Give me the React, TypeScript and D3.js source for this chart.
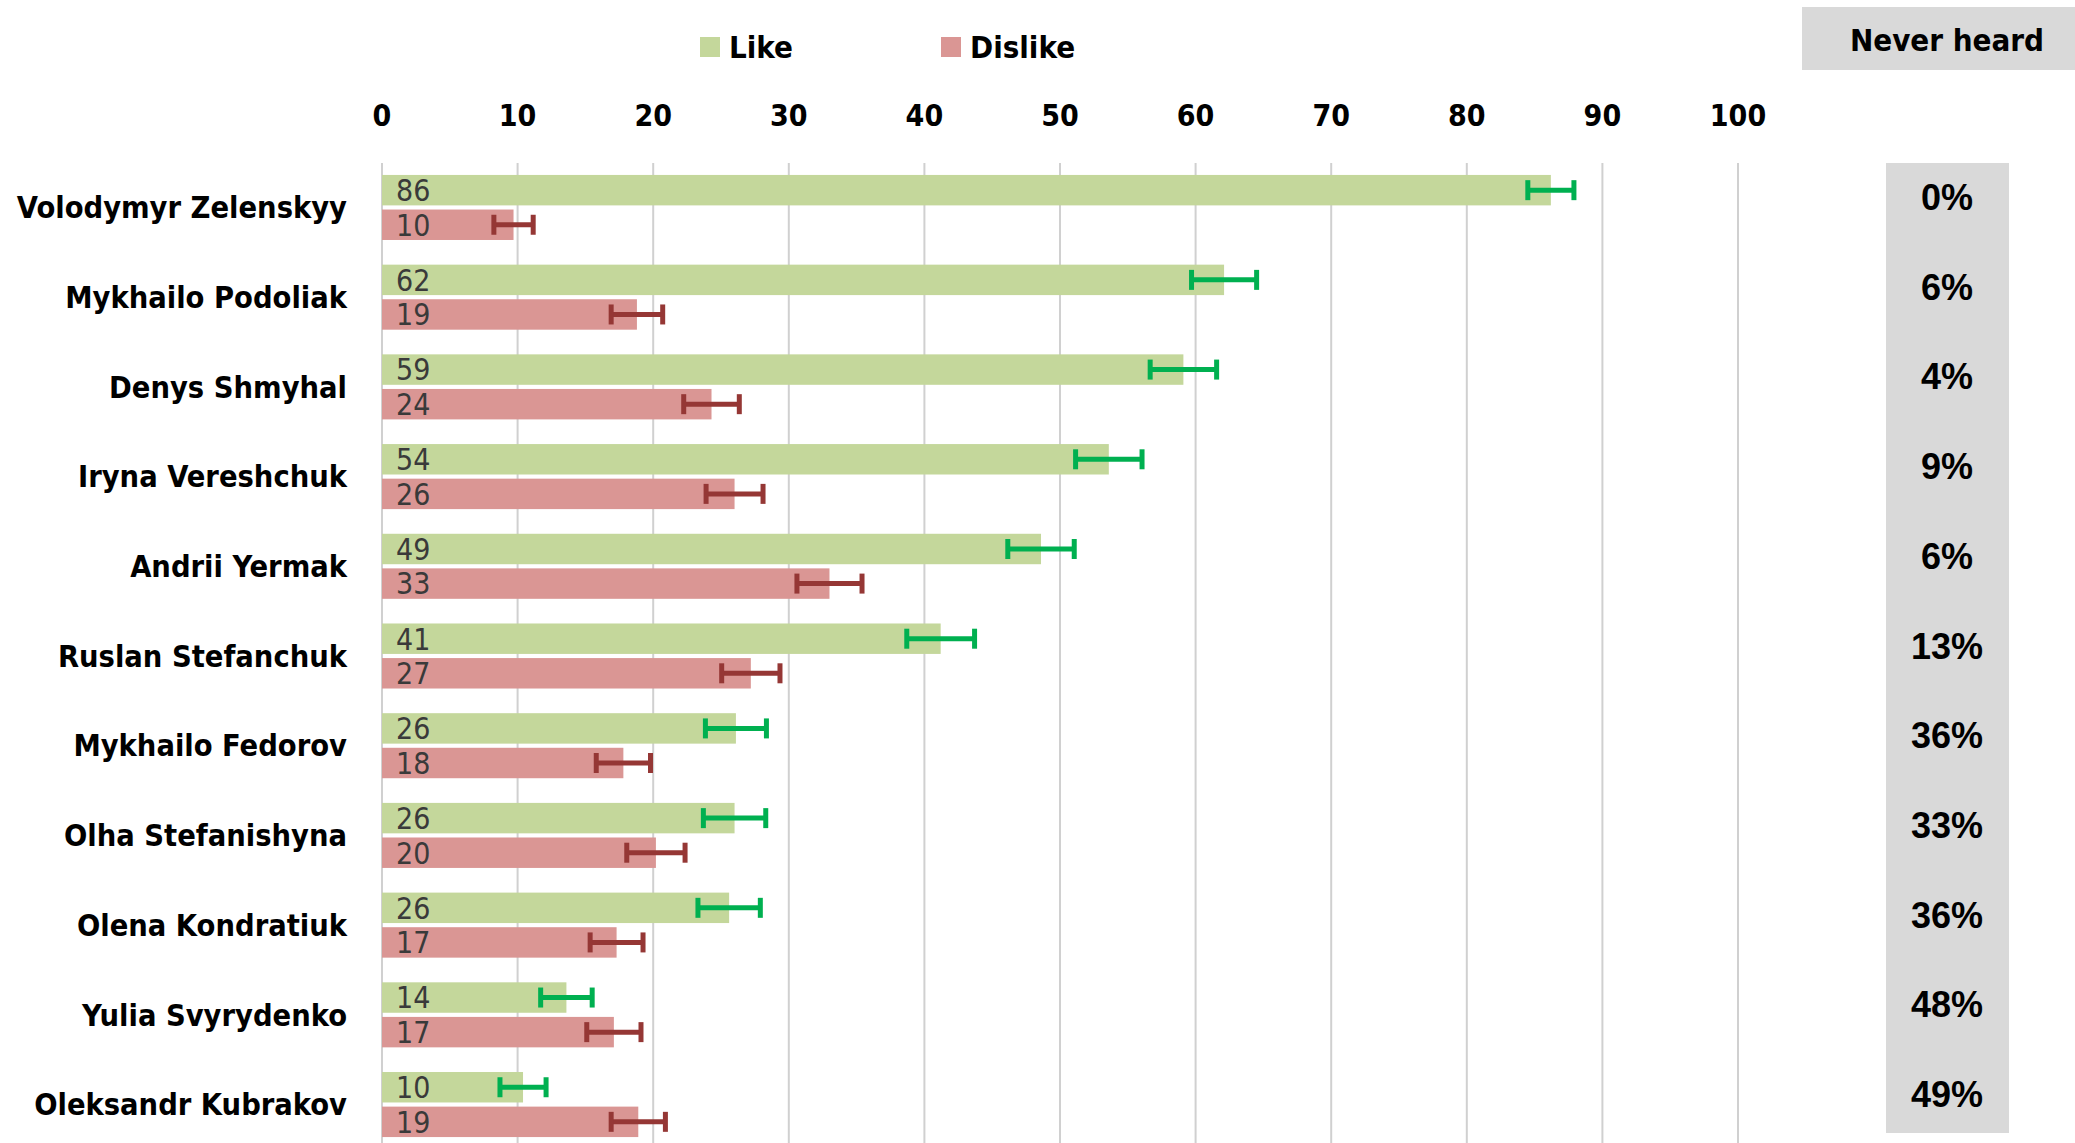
import React, { useEffect, useRef } from 'react';
import * as d3 from 'd3';

const names = [
  'Volodymyr Zelenskyy',
  'Mykhailo Podoliak',
  'Denys Shmyhal',
  'Iryna Vereshchuk',
  'Andrii Yermak',
  'Ruslan Stefanchuk',
  'Mykhailo Fedorov',
  'Olha Stefanishyna',
  'Olena Kondratiuk',
  'Yulia Svyrydenko',
  'Oleksandr Kubrakov',
];
const likeValues = [86.2, 62.1, 59.1, 53.6, 48.6, 41.2, 26.1, 26.0, 25.6, 13.6, 10.4];
const dislikeValues = [9.7, 18.8, 24.3, 26.0, 33.0, 27.2, 17.8, 20.2, 17.3, 17.1, 18.9];
const likeErrors = [1.7, 2.4, 2.45, 2.45, 2.45, 2.5, 2.25, 2.3, 2.3, 1.9, 1.7];
const dislikeErrors = [1.45, 1.9, 2.05, 2.1, 2.4, 2.15, 2.0, 2.15, 1.95, 2.0, 2.0];
const neverHeard = ['0%', '6%', '4%', '9%', '6%', '13%', '36%', '33%', '36%', '48%', '49%'];
const xTicks = [0, 10, 20, 30, 40, 50, 60, 70, 80, 90, 100];

const series = [
  { key: 'Like', values: likeValues, errors: likeErrors, fill: '#c4d79b', err: '#00b050' },
  { key: 'Dislike', values: dislikeValues, errors: dislikeErrors, fill: '#da9694', err: '#953735' },
];

const W = 2075;
const H = 1143;
const NARROW = '"Liberation Sans Narrow", "DejaVu Sans Condensed", "Roboto Condensed", sans-serif';
const ARIAL = '"Liberation Sans", Arial, sans-serif';

export default function App() {
  const svgRef = useRef<SVGSVGElement>(null);

  useEffect(() => {
    document.body.style.margin = '0';
    if (!svgRef.current) return;
    const svg = d3.select(svgRef.current);
    svg.selectAll('*').remove();

    const x = d3.scaleLinear().domain([0, 100]).range([382, 1738]);
    const y = d3.scaleBand<string>().domain(names).range([157, 1155]).paddingInner(0.275).paddingOuter(0.2);
    const y1 = d3.scaleBand<string>().domain(series.map(s => s.key)).range([0, y.bandwidth()]).paddingInner(0.12);

    // never heard column
    svg.append('rect').attr('x', 1886).attr('y', 163).attr('width', 123).attr('height', 970).attr('fill', '#d9d9d9');
    svg.append('rect').attr('x', 1802).attr('y', 7).attr('width', 273).attr('height', 63).attr('fill', '#d9d9d9');
    svg.append('text')
      .attr('x', 1947).attr('y', 40).attr('dy', '0.35em')
      .attr('text-anchor', 'middle')
      .style('font-family', NARROW).style('font-weight', 'bold').style('font-size', '31px')
      .text('Never heard');

    // gridlines
    svg.append('g').selectAll('line').data(xTicks).enter().append('line')
      .attr('x1', d => x(d)).attr('x2', d => x(d))
      .attr('y1', 163).attr('y2', H)
      .attr('stroke', '#d0d0d0').attr('stroke-width', 2);

    // top axis labels
    svg.append('g').selectAll('text').data(xTicks).enter().append('text')
      .attr('x', d => x(d)).attr('y', 115).attr('dy', '0.35em')
      .attr('text-anchor', 'middle')
      .style('font-family', NARROW).style('font-weight', 'bold').style('font-size', '30px')
      .text(d => d);

    // legend
    const legend = svg.append('g');
    const legendX = [700, 941];
    series.forEach((s, i) => {
      legend.append('rect').attr('x', legendX[i]).attr('y', 37).attr('width', 20).attr('height', 20).attr('fill', s.fill);
      legend.append('text')
        .attr('x', legendX[i] + 29).attr('y', 47).attr('dy', '0.35em')
        .style('font-family', NARROW).style('font-weight', 'bold').style('font-size', '31px')
        .text(s.key);
    });

    // category labels
    svg.append('g').selectAll('text').data(names).enter().append('text')
      .attr('x', 347).attr('y', d => (y(d) || 0) + y.bandwidth() / 2).attr('dy', '0.35em')
      .attr('text-anchor', 'end')
      .style('font-family', NARROW).style('font-weight', 'bold').style('font-size', '30.5px')
      .text(d => d);

    // bars
    const groups = svg.append('g').selectAll('g').data(names).enter().append('g')
      .attr('transform', d => `translate(0,${y(d)})`);

    series.forEach(s => {
      const by = y1(s.key) || 0;
      const bh = y1.bandwidth();
      groups.append('rect')
        .attr('x', x(0)).attr('y', by)
        .attr('width', (_, i) => x(s.values[i]) - x(0)).attr('height', bh)
        .attr('fill', s.fill);
      groups.append('text')
        .attr('x', x(0) + 14).attr('y', by + bh / 2).attr('dy', '0.36em')
        .style('font-family', NARROW).style('font-size', '30px').attr('fill', '#3a3a3a')
        .text((_, i) => Math.round(s.values[i]));
      // error bars
      const eb = groups.append('g').attr('stroke', s.err).attr('stroke-width', 5);
      eb.append('line')
        .attr('x1', (_, i) => x(s.values[i] - s.errors[i])).attr('x2', (_, i) => x(s.values[i] + s.errors[i]))
        .attr('y1', by + bh / 2).attr('y2', by + bh / 2);
      [-1, 1].forEach(sign => {
        eb.append('line')
          .attr('x1', (_, i) => x(s.values[i] + sign * s.errors[i])).attr('x2', (_, i) => x(s.values[i] + sign * s.errors[i]))
          .attr('y1', by + bh / 2 - 10).attr('y2', by + bh / 2 + 10);
      });
    });

    // never heard values
    svg.append('g').selectAll('text').data(names).enter().append('text')
      .attr('x', 1947).attr('y', d => (y(d) || 0) + y.bandwidth() / 2 - 10).attr('dy', '0.35em')
      .attr('text-anchor', 'middle')
      .style('font-family', ARIAL).style('font-weight', 'bold').style('font-size', '36px')
      .text((_, i) => neverHeard[i]);
  }, []);

  return <svg ref={svgRef} width={W} height={H} style={{ display: 'block', background: '#fff' }} />;
}
